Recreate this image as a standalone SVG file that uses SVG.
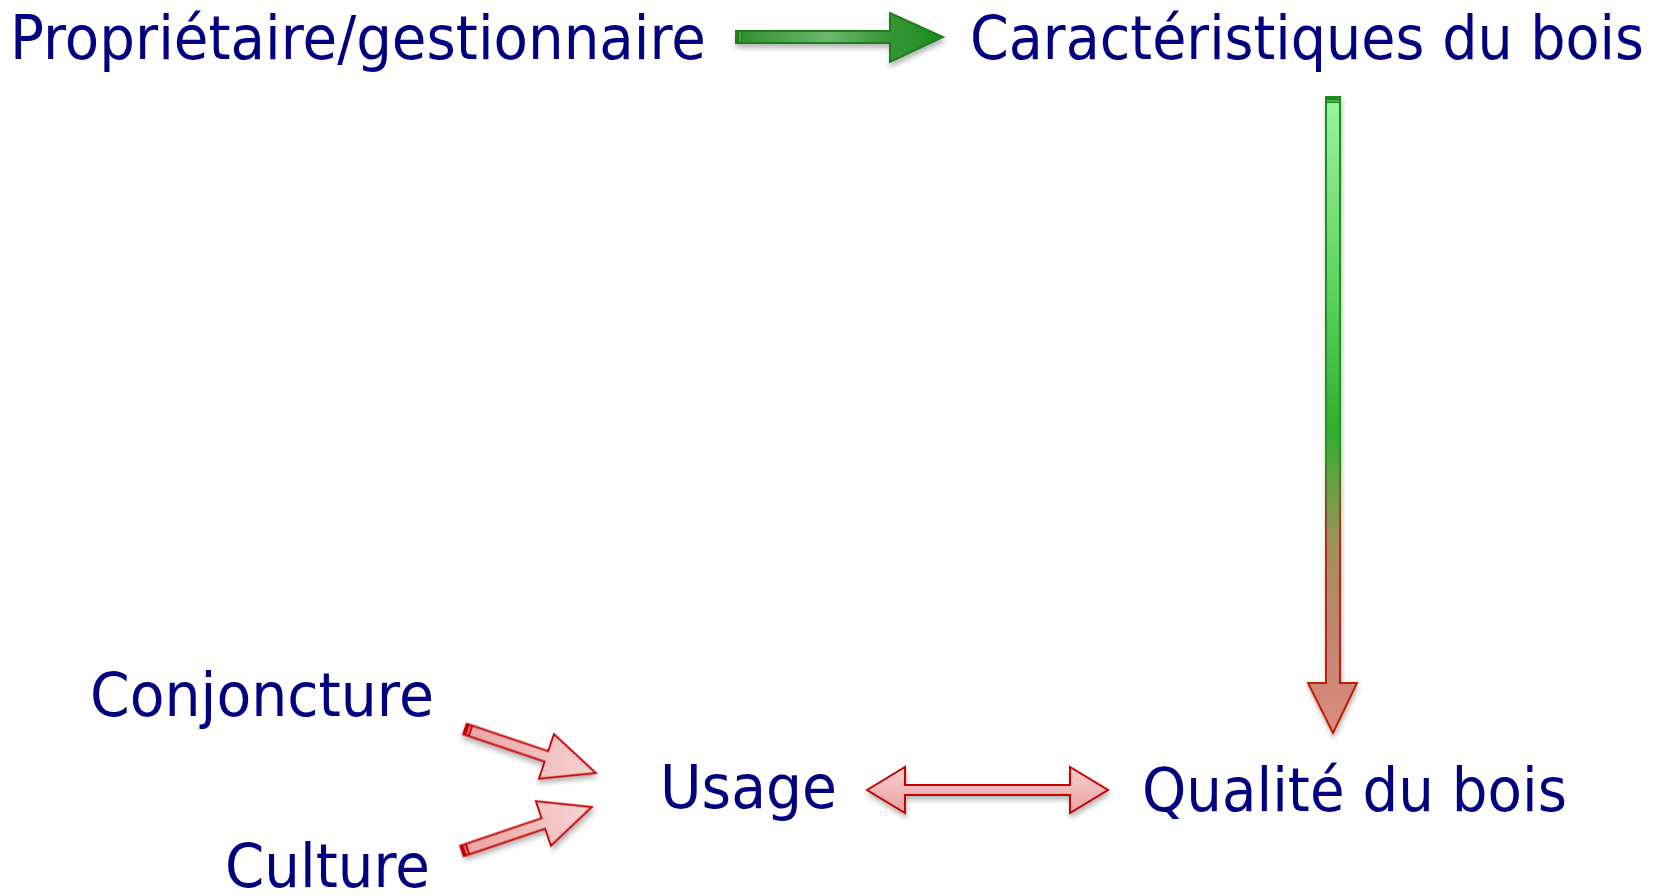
<svg xmlns="http://www.w3.org/2000/svg" width="1661" height="896" viewBox="0 0 1661 896">
<style>
  text { font-family: "DejaVu Sans", Verdana, sans-serif; font-size: 61px; fill: #000080; }
  .red { stroke: #c40000; stroke-width: 2; stroke-linejoin: miter; }
  .green { stroke: #1a7f1a; stroke-width: 2; }
</style>
<defs>
  <filter id="sh" x="-20%" y="-20%" width="140%" height="160%">
    <feDropShadow dx="1" dy="4" stdDeviation="2.5" flood-color="#000" flood-opacity="0.28"/>
  </filter>
  <linearGradient id="gH" x1="0" y1="0" x2="1" y2="0">
    <stop offset="0" stop-color="#2f8f2f"/>
    <stop offset="0.45" stop-color="#6db86d"/>
    <stop offset="0.7" stop-color="#3a983a"/>
    <stop offset="1" stop-color="#1f8a1f"/>
  </linearGradient>
  <linearGradient id="gV" gradientUnits="userSpaceOnUse" x1="0" y1="97" x2="0" y2="733">
    <stop offset="0" stop-color="#9af59a"/>
    <stop offset="0.3" stop-color="#5fd35f"/>
    <stop offset="0.52" stop-color="#2fb02f"/>
    <stop offset="0.7" stop-color="#a09058"/>
    <stop offset="0.85" stop-color="#c48470"/>
    <stop offset="1" stop-color="#dc8c80"/>
  </linearGradient>
  <linearGradient id="gVs" gradientUnits="userSpaceOnUse" x1="0" y1="97" x2="0" y2="733">
    <stop offset="0" stop-color="#1a8a1a"/>
    <stop offset="0.55" stop-color="#1a9a1a"/>
    <stop offset="0.7" stop-color="#b03010"/>
    <stop offset="1" stop-color="#c41a00"/>
  </linearGradient>
  <linearGradient id="gP" x1="0" y1="0" x2="0" y2="1">
    <stop offset="0" stop-color="#f7d0d0"/>
    <stop offset="1" stop-color="#e8a0a0"/>
  </linearGradient>
  <linearGradient id="gD" x1="0" y1="0" x2="1" y2="0">
    <stop offset="0" stop-color="#eaa2a2"/>
    <stop offset="1" stop-color="#f7d4d4"/>
  </linearGradient>
</defs>

<g id="node-proprietaire"><text x="10" y="59" textLength="696" lengthAdjust="spacingAndGlyphs">Propriétaire/gestionnaire</text></g>
<g id="node-caracteristiques"><text x="970" y="59" textLength="674" lengthAdjust="spacingAndGlyphs">Caractéristiques du bois</text></g>
<g id="node-conjoncture"><text x="90" y="716" textLength="344" lengthAdjust="spacingAndGlyphs">Conjoncture</text></g>
<g id="node-culture"><text x="225" y="887" textLength="205" lengthAdjust="spacingAndGlyphs">Culture</text></g>
<g id="node-usage"><text x="660" y="808" textLength="177" lengthAdjust="spacingAndGlyphs">Usage</text></g>
<g id="node-qualite"><text x="1142" y="811" textLength="425" lengthAdjust="spacingAndGlyphs">Qualité du bois</text></g>

<g id="connectors">
  <!-- green horizontal -->
  <g filter="url(#sh)">
    <polygon class="green" fill="url(#gH)" points="736,31 890,31 890,13 943,37 890,62 890,43 736,43"/>
    <rect x="736" y="31" width="6" height="12" fill="#1a7f1a"/>
    <line x1="740" y1="32" x2="740" y2="42" stroke="#6fc86f" stroke-width="1"/>
  </g>
  <!-- vertical -->
  <g filter="url(#sh)">
    <polygon stroke="url(#gVs)" stroke-width="2" fill="url(#gV)" points="1326,97 1340,97 1340,683 1357,683 1333,733 1308,683 1326,683"/>
    <rect x="1326" y="97" width="14" height="6" fill="#1a8a1a"/>
    <line x1="1327" y1="101" x2="1339" y2="101" stroke="#7fd87f" stroke-width="1"/>
  </g>
  <!-- double arrow -->
  <g filter="url(#sh)">
    <polygon class="red" fill="url(#gP)" points="867,790 905,767 905,785 1070,785 1070,767 1108,790 1070,813 1070,795 905,795 905,813"/>
  </g>
  <!-- Conjoncture -> Usage -->
  <g filter="url(#sh)" transform="translate(465,729) rotate(18.6)">
    <polygon class="red" fill="url(#gD)" points="0,-5.5 86,-5.5 86,-23.5 138,0 86,23.5 86,5.5 0,5.5"/>
    <rect x="0" y="-5.5" width="7" height="11" fill="#c40000"/>
    <line x1="4" y1="-4.5" x2="4" y2="4.5" stroke="#f2c0c0" stroke-width="1"/>
  </g>
  <!-- Culture -> Usage -->
  <g filter="url(#sh)" transform="translate(462,851) rotate(-18.7)">
    <polygon class="red" fill="url(#gD)" points="0,-5.5 86,-5.5 86,-23.5 137,0 86,23.5 86,5.5 0,5.5"/>
    <rect x="0" y="-5.5" width="7" height="11" fill="#c40000"/>
    <line x1="4" y1="-4.5" x2="4" y2="4.5" stroke="#f2c0c0" stroke-width="1"/>
  </g>
</g>
</svg>
